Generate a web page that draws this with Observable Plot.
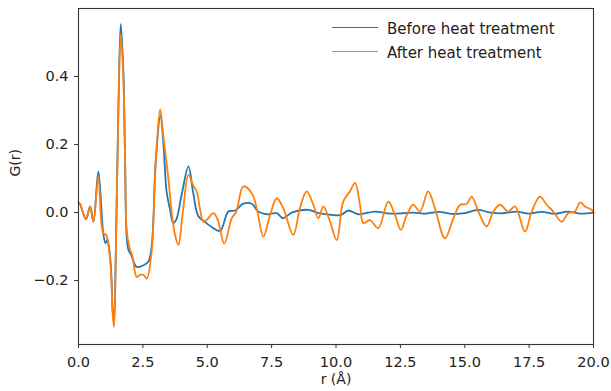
<!DOCTYPE html>
<html>
<head>
<meta charset="utf-8">
<script src="https://cdn.jsdelivr.net/npm/d3@7"></script>
<script src="https://cdn.jsdelivr.net/npm/@observablehq/plot@0.6"></script>
<style>
  html, body { margin: 0; padding: 0; background: #fff; }
  #wrap { position: relative; width: 611px; height: 391px; font-family: "DejaVu Sans", sans-serif; }
  #legend { position: absolute; left: 332px; top: 17px; font-size: 15px; color: #222; }
  .item { display: flex; align-items: center; height: 24px; }
  .sw { width: 46px; height: 0; border-top: 1.3px solid; margin-right: 9px; position: relative; top: -2px; }
</style>
</head>
<body>
<div id="wrap"><div id="legend"></div></div>
<script>
// ---- data ----
const seriesNames = ["Before heat treatment", "After heat treatment"];
const seriesColors = ["#1f77b4", "#ff7f0e"];

const beforeR = [0.0, 0.06, 0.29, 0.45, 0.58, 0.77, 0.96, 1.05, 1.12, 1.25, 1.33, 1.38, 1.45, 1.55, 1.64, 1.74, 1.81, 1.87, 1.94, 2.05, 2.26, 2.52, 2.71, 2.84, 3.0, 3.18, 3.3, 3.42, 3.55, 3.68, 3.8, 4.0, 4.27, 4.45, 4.65, 4.9, 5.24, 5.5, 5.82, 6.08, 6.4, 6.73, 6.98, 7.31, 7.7, 7.95, 8.28, 8.92, 9.33, 9.83, 10.2, 10.48, 10.87, 11.51, 12.1, 12.6, 13.0, 13.5, 14.0, 14.5, 15.0, 15.5, 16.0, 16.5, 17.0, 17.5, 18.0, 18.5, 19.0, 19.5, 20.0];
const beforeG = [0.03, 0.025, -0.02, 0.018, -0.027, 0.121, -0.06, -0.09, -0.08, -0.15, -0.29, -0.32, -0.11, 0.31, 0.555, 0.42, 0.15, -0.07, -0.11, -0.125, -0.16, -0.155, -0.145, -0.1, 0.15, 0.285, 0.2, 0.062, 0.01, -0.031, -0.02, 0.05, 0.136, 0.06, -0.01, -0.027, -0.046, -0.054, 0.003, 0.006, 0.026, 0.026, 0.003, -0.005, -0.002, -0.017, 0.0, 0.008, -0.002, -0.007, -0.007, 0.006, -0.005, 0.003, -0.003, -0.002, 0.0, -0.003, 0.002, -0.004, -0.002, 0.008, 0.0, -0.002, 0.003, -0.003, 0.002, -0.004, 0.003, -0.003, 0.0];

const afterR = [0.0, 0.06, 0.29, 0.45, 0.58, 0.77, 0.96, 1.07, 1.15, 1.25, 1.33, 1.38, 1.45, 1.55, 1.64, 1.74, 1.81, 1.87, 1.97, 2.1, 2.26, 2.4, 2.52, 2.65, 2.84, 3.0, 3.17, 3.3, 3.49, 3.62, 3.75, 3.88, 4.05, 4.27, 4.45, 4.59, 4.72, 4.85, 5.0, 5.24, 5.4, 5.66, 5.95, 6.13, 6.4, 6.73, 6.92, 7.18, 7.44, 7.7, 7.95, 8.34, 8.6, 8.86, 9.12, 9.31, 9.51, 9.77, 10.03, 10.28, 10.54, 10.74, 10.93, 11.06, 11.32, 11.64, 12.03, 12.29, 12.52, 12.75, 13.0, 13.26, 13.58, 13.84, 14.23, 14.56, 14.82, 15.07, 15.27, 15.53, 15.85, 16.11, 16.37, 16.69, 16.95, 17.34, 17.6, 17.92, 18.18, 18.44, 18.76, 19.02, 19.28, 19.48, 19.67, 19.93, 20.0];
const afterG = [0.03, 0.025, -0.02, 0.018, -0.027, 0.105, -0.061, -0.065, -0.09, -0.16, -0.3, -0.337, -0.12, 0.3, 0.525, 0.4, 0.15, -0.05, -0.1, -0.13, -0.189, -0.183, -0.183, -0.194, -0.115, 0.15, 0.303, 0.22, 0.1, 0.0, -0.066, -0.095, 0.0, 0.111, 0.08, 0.062, 0.01, -0.027, -0.02, -0.002, -0.02, -0.091, -0.017, 0.003, 0.077, 0.057, 0.013, -0.071, -0.007, 0.042, 0.013, -0.066, 0.013, 0.062, 0.023, -0.017, 0.018, -0.027, -0.081, 0.032, 0.062, 0.087, 0.023, -0.031, -0.022, -0.046, 0.032, -0.007, -0.051, -0.007, 0.023, 0.003, 0.062, 0.013, -0.076, -0.017, 0.023, 0.025, 0.047, 0.003, -0.041, 0.003, 0.023, 0.003, 0.018, -0.056, 0.003, 0.047, 0.023, 0.003, -0.027, -0.002, 0.003, 0.03, 0.018, 0.008, 0.0];

const xTicks = [0, 2.5, 5, 7.5, 10, 12.5, 15, 17.5, 20];
const yTicks = [-0.2, 0.0, 0.2, 0.4];
const xLabel = "r (Å)";
const yLabel = "G(r)";

const before = beforeR.map((r, i) => ({r, g: beforeG[i]}));
const after = afterR.map((r, i) => ({r, g: afterG[i]}));

const chart = Plot.plot({
  width: 611,
  height: 391,
  marginLeft: 78,
  marginRight: 18,
  marginTop: 8,
  marginBottom: 47,
  style: {fontFamily: "DejaVu Sans", fontSize: "14.5px", color: "#222", background: "#fff"},
  x: {domain: [0, 20]},
  y: {domain: [-0.388, 0.6]},
  marks: [
    Plot.line(before, {x: "r", y: "g", stroke: seriesColors[0], strokeWidth: 1.8, curve: "catmull-rom"}),
    Plot.line(after, {x: "r", y: "g", stroke: seriesColors[1], strokeWidth: 1.8, curve: "catmull-rom"}),
    Plot.frame({stroke: "#333", strokeWidth: 1.1}),
    Plot.axisX({ticks: xTicks, tickFormat: d3.format(".1f"), tickSize: 4, tickPadding: 8, label: null, stroke: "#333"}),
    Plot.axisY({ticks: yTicks, tickFormat: d3.format(".1f"), tickSize: 4, tickPadding: 6, label: null, stroke: "#333"}),
    Plot.text([xLabel], {frameAnchor: "bottom", dy: 39, text: d => d, fill: "#222", fontSize: 14}),
    Plot.text([yLabel], {frameAnchor: "left", dx: -63, rotate: -90, text: d => d, fill: "#222", fontSize: 14})
  ]
});
document.getElementById("wrap").prepend(chart);

const legend = document.getElementById("legend");
seriesNames.forEach((name, i) => {
  const it = document.createElement("div");
  it.className = "item";
  const sw = document.createElement("div");
  sw.className = "sw";
  sw.style.borderColor = seriesColors[i];
  const t = document.createElement("span");
  t.textContent = name;
  it.appendChild(sw);
  it.appendChild(t);
  legend.appendChild(it);
});
</script>
</body>
</html>
